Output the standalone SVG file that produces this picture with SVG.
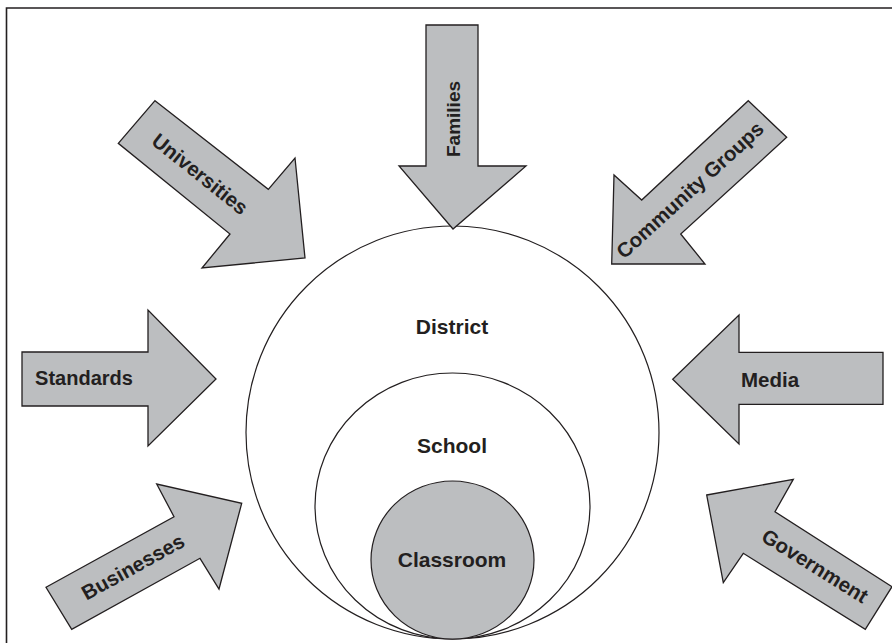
<svg xmlns="http://www.w3.org/2000/svg" width="892" height="643" viewBox="0 0 892 643">
<style>
.arrow{fill:#bcbec0;stroke:#231f20;stroke-width:1.3;stroke-linejoin:miter}
.ring{fill:#fff;stroke:#231f20;stroke-width:1.2}
.lbl{font-family:"Liberation Sans",Arial,sans-serif;font-weight:bold;font-size:18px;fill:#231f20;text-anchor:middle}
.big{font-size:21px}
.rot{font-size:20.5px}
</style>
<rect x="0" y="0" width="892" height="643" fill="#fff"/>
<path d="M6.5,643 V8 H892" fill="none" stroke="#231f20" stroke-width="1.6"/>
<g id="district">
<circle class="ring" cx="452.5" cy="432.5" r="206.5"/>
<text class="lbl big" x="452" y="334">District</text>
</g>
<g id="school">
<ellipse class="ring" cx="452.5" cy="506" rx="137.5" ry="133"/>
<text class="lbl big" x="452" y="453">School</text>
</g>
<g id="classroom">
<ellipse class="ring" style="fill:#bcbec0" cx="452.5" cy="560" rx="81.5" ry="79"/>
<text class="lbl big" x="452" y="567">Classroom</text>
</g>
<g id="connectors">
<g id="families">
<polygon class="arrow" points="426,25 478,25 478,166 526,166 453,229 399,166 426,166"/>
<text class="lbl" style="font-size:19px" transform="translate(453,119) rotate(-90)" y="7">Families</text>
</g>
<g id="universities">
<polygon class="arrow" points="155,100.7 268.3,189.3 295,158 305,258 202,268 230,234 118.3,143.3"/>
<text class="lbl rot" transform="translate(200,174) rotate(38.7)" y="7">Universities</text>
</g>
<g id="community">
<polygon class="arrow" points="748.3,100.7 786.7,137.3 680.7,234 705,264 611.7,264 614,175 641.7,200"/>
<text class="lbl rot" transform="translate(690,190) rotate(-42.5)" y="7">Community Groups</text>
</g>
<g id="standards">
<polygon class="arrow" points="22,352 148,352 148,310 216,379 148,446 148,406 22,406"/>
<text class="lbl" style="font-size:20px" x="84" y="385">Standards</text>
</g>
<g id="media">
<polygon class="arrow" points="883,352.3 739,352.3 739,315 672.7,379.3 739,444 739,404.3 883,404.3"/>
<text class="lbl" style="font-size:20.5px" x="770" y="387">Media</text>
</g>
<g id="businesses">
<polygon class="arrow" points="46,587.3 174,516.7 156.7,484 241.7,503.3 219,589 200,558.3 71.7,629.3"/>
<text class="lbl rot" transform="translate(133,567) rotate(-29)" y="7">Businesses</text>
</g>
<g id="government">
<polygon class="arrow" points="706.7,495 793.3,479.3 775,511.7 892,586.7 865.3,629.3 743.3,553.3 723.3,582.7"/>
<text class="lbl rot" transform="translate(815,566) rotate(32)" y="7">Government</text>
</g>
</g>
</svg>
